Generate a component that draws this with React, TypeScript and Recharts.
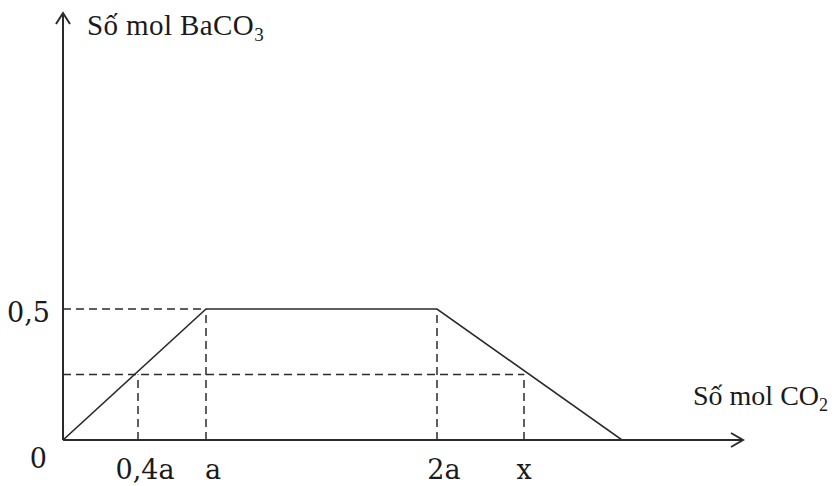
import React from 'react';
import { ComposedChart, Line, XAxis, YAxis, ReferenceLine, ReferenceDot, Label } from 'recharts';

// x positions (arbitrary units along the CO2 axis)
const pointX = [0, 143, 374, 559];
const pointY = [0, 0.5, 0.5, 0];
const xTicks = [0, 75, 143, 374, 461];
const xTickLabels = ['0', '0,4a', 'a', '2a', 'x'];
const yTicks = [0.5];
const yTickLabels = ['0,5'];
const halfLevel = 0.25;
const xMax = 680;
const yMax = 1.63;

const data = pointX.map((x, i) => ({ x, y: pointY[i] }));

const FONT = '"Liberation Serif", "Times New Roman", serif';
const TICK_FONT = '"DejaVu Serif", "Liberation Serif", serif';
const INK = '#2b2b2b';
const TEXT = '#1a1a1a';

const XTick = (props: any) => {
  const { x, y, payload } = props;
  const idx = xTicks.indexOf(payload.value);
  const label = idx >= 0 ? xTickLabels[idx] : String(payload.value);
  if (payload.value === 0) {
    return (
      <text x={x - 16} y={y + 28} textAnchor="end" fontFamily={TICK_FONT} fontSize={27} fill={TEXT}>
        {label}
      </text>
    );
  }
  const dx = label === 'x' ? 0 : 7;
  return (
    <text x={x + dx} y={y + 39} textAnchor="middle" fontFamily={TICK_FONT} fontSize={27} fill={TEXT}>
      {label}
    </text>
  );
};

const YTick = (props: any) => {
  const { x, y, payload } = props;
  const idx = yTicks.indexOf(payload.value);
  const label = idx >= 0 ? yTickLabels[idx] : String(payload.value);
  return (
    <text x={x - 13} y={y + 13} textAnchor="end" fontFamily={TICK_FONT} fontSize={27} fill={TEXT}>
      {label}
    </text>
  );
};

const YTitle = (props: any) => {
  const vb = props.viewBox || { x: 0, y: 13, width: 63, height: 427 };
  return (
    <text
      x={vb.x + vb.width + 24}
      y={vb.y + 22}
      fontFamily={FONT}
      fontSize={29}
      letterSpacing={0.4}
      fill={TEXT}
    >
      Số mol BaCO
      <tspan dy={6} fontSize={19}>3</tspan>
    </text>
  );
};

const XTitle = (props: any) => {
  const vb = props.viewBox || { x: 63, y: 440, width: 680, height: 46 };
  return (
    <text x={vb.x + vb.width - 50} y={vb.y - 35} fontFamily={FONT} fontSize={28} fill={TEXT}>
      Số mol CO
      <tspan dy={6} fontSize={18}>2</tspan>
    </text>
  );
};

const ArrowRight = (props: any) => {
  const { cx, cy } = props;
  if (cx == null || cy == null) return null;
  return (
    <path
      d={`M ${cx - 12} ${cy - 7} L ${cx} ${cy} L ${cx - 12} ${cy + 7}`}
      fill="none"
      stroke={INK}
      strokeWidth={2}
    />
  );
};

const ArrowUp = (props: any) => {
  const { cx, cy } = props;
  if (cx == null || cy == null) return null;
  return (
    <path
      d={`M ${cx - 7} ${cy + 11} L ${cx} ${cy} L ${cx + 7} ${cy + 11}`}
      fill="none"
      stroke={INK}
      strokeWidth={2}
    />
  );
};

const halfIdxLeft = 1; // 0,4a tick
const halfIdxRight = 4; // x tick

export default function App() {
  return (
    <div style={{ position: 'absolute', left: 0, top: 0, width: 838, height: 486, background: '#fff' }}>
      <ComposedChart
        width={838}
        height={486}
        data={data}
        margin={{ top: 13, right: 95, bottom: 0, left: 0 }}
      >
        <XAxis
          type="number"
          dataKey="x"
          domain={[0, xMax]}
          ticks={xTicks}
          allowDataOverflow
          height={46}
          tickLine={false}
          tickSize={0}
          tickMargin={0}
          tick={<XTick />}
          axisLine={{ stroke: INK, strokeWidth: 2 }}
          interval={0}
        >
          <Label content={<XTitle />} />
        </XAxis>
        <YAxis
          type="number"
          domain={[0, yMax]}
          ticks={yTicks}
          allowDataOverflow
          width={63}
          tickLine={false}
          tickSize={0}
          tickMargin={0}
          tick={<YTick />}
          axisLine={{ stroke: INK, strokeWidth: 2 }}
          interval={0}
        >
          <Label content={<YTitle />} />
        </YAxis>

        {/* dashed guide lines */}
        <ReferenceLine
          segment={[{ x: 0, y: pointY[1] }, { x: pointX[1], y: pointY[1] }]}
          stroke={INK}
          strokeWidth={1.5}
          strokeDasharray="8 5"
        />
        <ReferenceLine
          segment={[{ x: 0, y: halfLevel }, { x: xTicks[halfIdxRight], y: halfLevel }]}
          stroke={INK}
          strokeWidth={1.5}
          strokeDasharray="8 5"
        />
        <ReferenceLine
          segment={[{ x: xTicks[halfIdxLeft], y: 0 }, { x: xTicks[halfIdxLeft], y: halfLevel }]}
          stroke={INK}
          strokeWidth={1.5}
          strokeDasharray="8 5"
        />
        <ReferenceLine
          segment={[{ x: xTicks[halfIdxRight], y: 0 }, { x: xTicks[halfIdxRight], y: halfLevel }]}
          stroke={INK}
          strokeWidth={1.5}
          strokeDasharray="8 5"
        />
        <ReferenceLine
          segment={[{ x: pointX[1], y: 0 }, { x: pointX[1], y: pointY[1] }]}
          stroke={INK}
          strokeWidth={1.5}
          strokeDasharray="8 5"
        />
        <ReferenceLine
          segment={[{ x: pointX[2], y: 0 }, { x: pointX[2], y: pointY[2] }]}
          stroke={INK}
          strokeWidth={1.5}
          strokeDasharray="8 5"
        />

        <Line
          type="linear"
          dataKey="y"
          stroke={INK}
          strokeWidth={1.6}
          dot={false}
          activeDot={false}
          isAnimationActive={false}
        />

        <ReferenceDot x={xMax} y={0} r={0} shape={<ArrowRight />} ifOverflow="visible" />
        <ReferenceDot x={0} y={yMax} r={0} shape={<ArrowUp />} ifOverflow="visible" />
      </ComposedChart>
    </div>
  );
}
